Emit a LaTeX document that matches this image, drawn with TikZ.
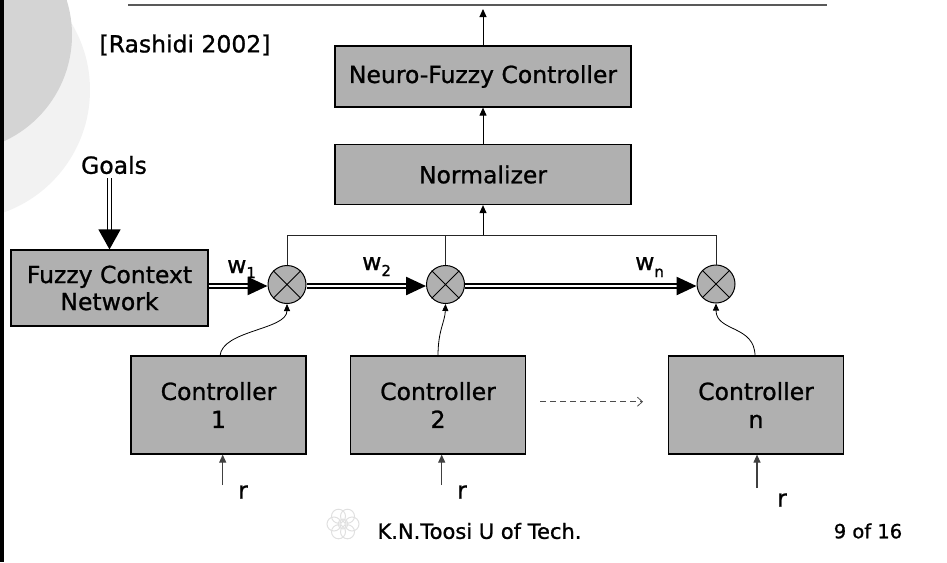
\documentclass[tikz,border=0pt]{standalone}
\usepackage{fontspec}
\setmainfont{DejaVu Sans}[FakeBold=1]
\usetikzlibrary{arrows.meta,calc}
\definecolor{boxgray}{HTML}{B0B0B0}
\newcommand\mfs{\fontsize{23.5}{28}\selectfont}
\newcommand\ffs{\fontsize{21}{24}\selectfont}
\begin{document}
\begin{tikzpicture}[x=1pt,y=-1pt,
  box/.style={draw=black, line width=1.2pt, fill=boxgray, inner sep=0pt, font=\mfs, align=center},
  mult/.style={circle, draw=black, line width=1pt, fill=boxgray, minimum size=38pt, inner sep=0pt},
  warrow/.style={draw=black, double=white, line width=2.4pt, double distance=1.6pt, -{Triangle[length=20pt,width=18pt]}},
  garrow/.style={draw=black, double=white, line width=1.3pt, double distance=3.2pt, -{Triangle[length=20pt,width=22pt]}},
  sarrow/.style={draw=black, line width=1pt, -{Triangle[length=8pt,width=7pt]}},
  rarrow/.style={draw=black!75, line width=1.1pt, -{Triangle[length=8pt,width=7pt]}},
  carrow/.style={draw=black, line width=0.8pt, -{Triangle[length=7pt,width=6pt]}},
  busline/.style={draw=black!85, line width=0.9pt},
  dasharrow/.style={draw=black!70, line width=0.8pt, dash pattern=on 6pt off 4pt, -{Straight Barb[length=5pt,width=9pt]}},
  lbl/.style={font=\mfs, inner sep=0pt}
]
\useasboundingbox (0,0) rectangle (947,562);
% background decoration
\begin{scope}
\clip (0,0) rectangle (947,562);
\fill[black!5] (-40,90) circle (130);
\fill[black!17] (-45,35) circle (117);
\end{scope}
\fill[black] (0,0) rectangle (3.5,562);
\draw[black!65, line width=1.6pt] (128,5) -- (827,5);

% title reference
\node[lbl] (ref) at (185,45) {[Rashidi 2002]};

% main blocks
\node[box, minimum width=296pt, minimum height=61pt] (nfc) at (483,76.5) {Neuro-Fuzzy Controller};
\node[box, minimum width=296pt, minimum height=60pt] (norm) at (483,174.5) {Normalizer};
\node[box, minimum width=197pt, minimum height=76pt, font=\fontsize{23.5}{27}\selectfont] (fcn) at (109.5,288) {Fuzzy Context\\Network};
\node[lbl] (goals) at (114,165) {Goals};

\node[box, minimum width=175pt, minimum height=98pt] (c1) at (218.5,405) {Controller\\1};
\node[box, minimum width=175pt, minimum height=98pt] (c2) at (438,405) {Controller\\2};
\node[box, minimum width=175pt, minimum height=98pt] (cn) at (756,405) {Controller\\n};

% multipliers
\node[mult] (m1) at (287,284.5) {};
\node[mult] (m2) at (445.5,284.5) {};
\node[mult] (mn) at (716,284) {};
\foreach \m in {m1,m2,mn}{
  \draw[line width=0.8pt] (\m.north west) -- (\m.south east) (\m.north east) -- (\m.south west);
}

% output
\coordinate (out) at (483,9);
\draw[sarrow] (nfc.north) -- (out);
\draw[sarrow] (norm.north) -- (nfc.south);

% bus
\coordinate (b1) at (287,235);
\coordinate (bn) at (716,235);
\draw[busline] (m1.north) -- (b1) -- (bn) -- (mn.north);
\draw[busline] (m2.north) -- (m2.north |- b1);
\draw[sarrow] (norm.south |- b1) -- (norm.south);

% goals arrow
\draw[garrow] ([yshift=-4pt]goals.south -| fcn.north) -- (fcn.north);

% weighted signal arrows
\draw[warrow] (fcn.east |- 0,286) -- (m1.west |- 0,286);
\draw[warrow] (m1.east |- 0,286) -- (m2.west |- 0,286);
\draw[warrow] (m2.east |- 0,286) -- (mn.west |- 0,286);

\node[lbl, anchor=base west] (w1) at (227,273) {w\raisebox{-5pt}{\fontsize{15}{15}\selectfont 1}};
\node[lbl, anchor=base west] (w2) at (362,270) {w\raisebox{-6pt}{\fontsize{15}{15}\selectfont 2}};
\node[lbl, anchor=base west] (wn) at (635,270) {w\raisebox{-7pt}{\fontsize{15}{15}\selectfont n}};

% controller to multiplier curves
\draw[carrow] (220,356) .. controls (222,330) and (287,330) .. (m1.south);
\draw[carrow] (438,356) .. controls (438,330) and (445,322) .. (m2.south);
\draw[carrow] (755,356) .. controls (755,325) and (716,332) .. (mn.south);

% dashed arrow
\coordinate (d1) at (540,401.7);
\coordinate (d2) at (643,401.7);
\draw[dasharrow] (d1) -- (d2);

% reference inputs
\coordinate (r1) at (222.7,485);
\coordinate (r2) at (441.7,485);
\coordinate (rn) at (757,488);
\draw[rarrow] (r1) -- (r1 |- c1.south);
\draw[rarrow] (r2) -- (r2 |- c2.south);
\draw[rarrow] (rn) -- (rn |- cn.south);
\node[lbl] (rl1) at (243,492) {r};
\node[lbl] (rl2) at (462,492) {r};
\node[lbl] (rln) at (782,500) {r};

% footer
\begin{scope}[draw=black!12, line width=1pt]
\foreach \a in {0,60,...,300}{\draw ($(343,524)+(\a:9)$) circle (7);}
\draw (343,524) circle (5);
\end{scope}
\node[font=\ffs, inner sep=0pt] (foot) at (479.5,531) {K.N.Toosi U of Tech.};
\node[font=\fontsize{19.5}{22}\selectfont, inner sep=0pt] (page) at (868,531) {9 of 16};
\end{tikzpicture}
\end{document}
